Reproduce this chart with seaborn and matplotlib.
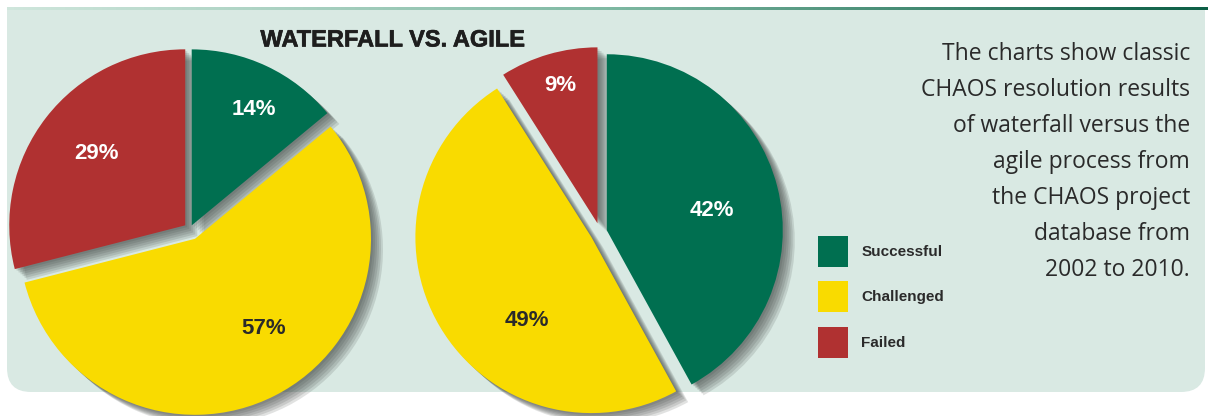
import numpy as np
import matplotlib
matplotlib.use("Agg")
import matplotlib.pyplot as plt
import matplotlib.patheffects as pe
import seaborn as sns
from matplotlib.patches import FancyBboxPatch, Rectangle, Patch

sns.set_theme(style="white")
plt.rcParams['font.family'] = ['Liberation Sans', 'DejaVu Sans']

# ---------------- data ----------------
categories = ["Successful", "Challenged", "Failed"]
waterfall = [14, 57, 29]
agile = [42, 49, 9]
title = "WATERFALL VS. AGILE"
description = ["The charts show classic", "CHAOS resolution results",
               "of waterfall versus the", "agile process from",
               "the CHAOS project", "database from", "2002 to 2010."]

# ---------------- style ----------------
colors = ["#006F50", "#F9DB00", "#B03131"]
label_colors = ["white", "#2a2a2a", "white"]
bg = "#D9E9E3"
W, H = 1208, 416
NARROW = ['Liberation Sans Narrow', 'Liberation Sans', 'DejaVu Sans']

fig = plt.figure(figsize=(W / 100, H / 100), dpi=100)
ax = fig.add_axes([0, 0, 1, 1])
fig.patch.set_facecolor("white")

def py(y):  # pixel-from-top -> data y
    return H - y

# panel (square top, rounded bottom)
ax.add_patch(FancyBboxPatch((7, py(392)), 1198, 383,
                            boxstyle="round,pad=0,rounding_size=24",
                            fc=bg, ec="none", zorder=0))
ax.add_patch(Rectangle((7, py(200)), 1198, 191, fc=bg, ec="none", zorder=0))
# top gradient line
grad = np.linspace(0, 1, 256)[None, :]
cmap = matplotlib.colors.LinearSegmentedColormap.from_list("g", ["#cfe6dc", "#7fb9a3", "#0d5f46"])
ax.imshow(grad, extent=(7, W, py(10), py(7)), aspect="auto", cmap=cmap, zorder=1)

R = 176

def draw_pie(values, center, explode, lab_dist, lab_rot):
    # soft shadow: several translucent copies shifted to lower right
    for off in [12, 10, 8, 6, 4, 2]:
        ax.pie(values, colors=["#3a3f3c"] * 3, startangle=90, counterclock=False,
               explode=explode, radius=R, center=(center[0] + off, center[1] - off * 0.9),
               wedgeprops=dict(linewidth=0, alpha=0.15), frame=True)
    wedges, _ = ax.pie(values, colors=colors, startangle=90, counterclock=False,
                       explode=explode, radius=R, center=center,
                       wedgeprops=dict(linewidth=0), frame=True)
    for w, v, d, rot, lc in zip(wedges, values, lab_dist, lab_rot, label_colors):
        mid = np.deg2rad((w.theta1 + w.theta2) / 2 + rot)
        cx, cy = w.center
        ax.text(cx + d * R * np.cos(mid), cy + d * R * np.sin(mid), f"{v}%",
                ha="center", va="center", color=lc, fontsize=16,
                fontweight="bold", family=NARROW, zorder=5)
    for w in wedges:
        w.set_zorder(3)
    return wedges

# explode values are in pixels (data units)
draw_pie(waterfall, (190, py(229)), [4, 11, 6],
         [0.75, 0.64, 0.65], [-3, 10.5, -1])
draw_pie(agile, (600, py(232)), [7, 10, 9],
         [0.61, 0.60, 0.81], [-3.7, 22, -1])

ax.text(393, py(40), title, ha="center", va="center", fontsize=17,
        fontweight="bold", family=NARROW, color="#1e1e1e", zorder=5,
        path_effects=[pe.withStroke(linewidth=0.45, foreground="#1e1e1e")])

for i, line in enumerate(description):
    ax.text(1190, py(54 + 36 * i), line, ha="right", va="center",
            fontsize=16.5, family=['Open Sans', 'DejaVu Sans'],
            color="#2a2a2a", zorder=5)

leg = ax.legend([Patch(fc=c, ec="none") for c in colors], categories,
                loc="upper left", bbox_to_anchor=(804 / W, 1 - 222 / H),
                bbox_transform=fig.transFigure, frameon=False,
                prop=dict(family=NARROW, weight="bold", size=11),
                handlelength=2.0, handleheight=2.75, labelspacing=0.95,
                handletextpad=0.85, labelcolor="#2a2a2a")

ax.set_xlim(0, W)
ax.set_ylim(0, H)
ax.set_aspect("auto")
ax.axis("off")
fig.savefig("out.png", dpi=100, facecolor="white")
